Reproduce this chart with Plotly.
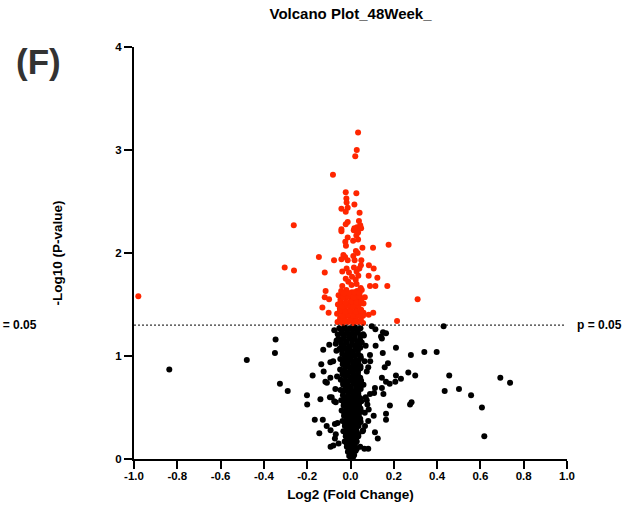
import plotly.graph_objects as go

# ---- data (log2 fold change, -log10 p) ----
red_scatter = [
    (-0.98, 1.58), (-0.262, 2.27), (-0.304, 1.86), (-0.261, 1.83), (-0.146, 1.96),
    (-0.076, 1.93), (-0.119, 1.81), (-0.115, 1.63), (-0.119, 1.57), (-0.099, 1.55),
    (-0.130, 1.47), (-0.101, 1.42), (0.176, 2.08), (0.104, 2.05), (0.085, 1.88),
    (0.107, 1.85), (0.124, 1.76), (0.084, 1.78), (0.170, 1.68), (0.090, 1.68),
    (0.115, 1.68), (0.31, 1.55), (0.215, 1.34), (0.105, 1.42), (0.084, 1.40),
    (0.066, 1.57),
]
red_top = [
    (0.035, 3.17), (0.029, 3.00), (0.022, 2.94), (-0.081, 2.76), (-0.022, 2.59),
    (0.027, 2.58), (-0.019, 2.53), (-0.018, 2.49), (0.018, 2.47), (-0.013, 2.44),
    (-0.042, 2.43), (-0.022, 2.40), (0.042, 2.39), (0.039, 2.31), (-0.013, 2.30),
    (-0.022, 2.28), (0.045, 2.27), (0.049, 2.24), (0.018, 2.24), (-0.042, 2.23),
]
red_mid = [
    (-0.042, 2.21), (0.015, 2.22), (0.030, 2.25), (0.044, 2.25), (0.035, 2.20),
    (0.027, 2.17), (-0.013, 2.15), (-0.024, 2.11), (0.012, 2.12), (0.035, 2.13),
    (-0.021, 2.07), (0.055, 2.05), (0.025, 2.02), (0.033, 2.00), (-0.033, 1.98),
    (-0.025, 1.96), (0.013, 1.97), (-0.042, 1.94), (-0.013, 1.93), (0.019, 1.93),
    (0.050, 1.93), (0.048, 1.88), (-0.018, 1.85), (0.016, 1.86), (0.041, 1.85),
    (-0.038, 1.82), (-0.007, 1.81), (0.028, 1.82), (0.007, 1.77), (0.036, 1.78),
    (-0.022, 1.75), (0.024, 1.74), (-0.010, 1.72), (0.028, 1.70), (-0.038, 1.68),
    (0.005, 1.69), (0.047, 1.66),
]
red_low = [
    (-0.060, 1.33), (-0.036, 1.32), (-0.012, 1.33), (0.012, 1.32), (0.036, 1.33), (0.058, 1.32),
    (-0.048, 1.37), (-0.024, 1.38), (0.000, 1.37), (0.024, 1.36), (0.048, 1.38),
    (-0.062, 1.41), (-0.036, 1.42), (-0.012, 1.41), (0.013, 1.42), (0.037, 1.41), (0.060, 1.42),
    (-0.049, 1.46), (-0.025, 1.45), (-0.001, 1.47), (0.025, 1.46), (0.049, 1.45),
    (-0.058, 1.50), (-0.035, 1.51), (-0.011, 1.50), (0.014, 1.51), (0.038, 1.50), (0.060, 1.51),
    (-0.046, 1.55), (-0.022, 1.56), (0.002, 1.54), (0.027, 1.55), (0.050, 1.56),
    (-0.055, 1.59), (-0.032, 1.60), (-0.008, 1.59), (0.017, 1.60), (0.040, 1.59),
    (-0.043, 1.63), (-0.019, 1.64), (0.006, 1.62), (0.030, 1.63), (0.052, 1.64),
]
red_low2 = [
    (-0.048, 1.35), (-0.024, 1.34), (0.000, 1.35), (0.024, 1.34), (0.048, 1.35),
    (-0.036, 1.39), (-0.012, 1.40), (0.012, 1.39), (0.036, 1.40), (0.058, 1.39),
    (-0.049, 1.44), (-0.024, 1.43), (0.001, 1.44), (0.025, 1.43), (0.048, 1.44),
    (-0.037, 1.48), (-0.013, 1.49), (0.012, 1.48), (0.037, 1.49),
    (-0.046, 1.53), (-0.022, 1.52), (0.003, 1.53), (0.027, 1.52), (0.050, 1.53),
    (-0.034, 1.57), (-0.010, 1.58), (0.015, 1.57), (0.039, 1.58),
    (-0.031, 1.61), (-0.006, 1.61), (0.018, 1.62), (0.042, 1.61),
]
black_left = [
    (-0.837, 0.87), (-0.479, 0.96), (-0.346, 1.16), (-0.349, 1.03), (-0.326, 0.73),
    (-0.290, 0.66), (-0.201, 0.62), (-0.200, 0.53), (-0.175, 0.81), (-0.126, 1.06),
    (-0.135, 0.92), (-0.098, 1.11), (-0.093, 0.94), (-0.124, 0.85), (-0.116, 0.75),
    (-0.109, 0.74), (-0.093, 0.79), (-0.139, 0.58), (-0.095, 0.60), (-0.087, 0.60),
    (-0.075, 0.56), (-0.165, 0.38), (-0.128, 0.38), (-0.144, 0.25), (-0.110, 0.32),
    (-0.092, 0.28), (-0.072, 0.34), (-0.068, 0.24), (-0.072, 0.20), (-0.092, 0.12),
    (-0.079, 0.13), (-0.068, 1.12), (-0.064, 1.15), (-0.059, 1.21),
]
black_right = [
    (0.430, 1.29), (0.341, 1.04), (0.398, 1.04), (0.279, 1.01), (0.210, 1.08),
    (0.173, 0.93), (0.158, 0.89), (0.149, 1.03), (0.267, 0.84), (0.299, 0.81),
    (0.210, 0.81), (0.233, 0.78), (0.207, 0.75), (0.456, 0.81), (0.435, 0.66),
    (0.501, 0.68), (0.557, 0.62), (0.607, 0.50), (0.618, 0.22), (0.692, 0.79),
    (0.737, 0.74), (0.275, 0.53), (0.282, 0.55), (0.182, 0.52), (0.164, 0.44),
    (0.164, 0.38), (0.164, 0.75), (0.181, 0.73), (0.145, 0.79), (0.145, 0.69),
    (0.152, 0.63), (0.113, 0.69), (0.109, 0.64), (0.090, 0.63), (0.107, 0.42),
    (0.113, 0.26), (0.126, 0.20), (0.082, 0.10), (0.064, 0.10), (0.150, 1.23),
    (0.164, 1.22), (0.141, 1.19), (0.145, 1.17), (0.098, 1.29), (0.115, 1.26),
    (0.116, 1.10), (0.090, 1.01), (0.091, 0.95), (0.082, 0.89), (0.084, 0.48),
    (0.082, 0.37), (0.067, 0.32), (0.056, 0.27), (0.078, 0.53), (0.075, 0.57),
]
black_edge = [
    (-0.065, 1.05), (-0.062, 0.80), (-0.068, 0.55), (-0.060, 0.35), (0.062, 1.20),
    (0.065, 0.95), (0.060, 0.72), (0.066, 0.45), (0.058, 0.28), (-0.075, 1.25),
    (0.070, 1.10), (-0.070, 0.68), (0.070, 0.60), (-0.055, 0.15), (0.045, 0.12),
    (-0.080, 0.95), (0.075, 0.85),
]
black_core = [
    (-0.052, 1.27), (-0.028, 1.28), (-0.004, 1.27), (0.021, 1.28), (0.046, 1.27),
    (-0.041, 1.22), (-0.016, 1.23), (0.009, 1.22), (0.033, 1.23), (0.058, 1.21),
    (-0.055, 1.17), (-0.030, 1.18), (-0.005, 1.17), (0.020, 1.18), (0.044, 1.16),
    (-0.043, 1.12), (-0.018, 1.13), (0.007, 1.12), (0.031, 1.11), (0.052, 1.13),
    (-0.050, 1.07), (-0.027, 1.08), (-0.003, 1.07), (0.022, 1.06), (0.045, 1.08),
    (-0.038, 1.02), (-0.014, 1.03), (0.010, 1.01), (0.034, 1.02),
    (-0.047, 0.97), (-0.024, 0.98), (0.000, 0.97), (0.024, 0.96), (0.048, 0.98),
    (-0.036, 0.92), (-0.012, 0.93), (0.012, 0.91), (0.036, 0.92),
    (-0.048, 0.87), (-0.025, 0.88), (-0.001, 0.86), (0.023, 0.87), (0.046, 0.88),
    (-0.037, 0.82), (-0.013, 0.81), (0.011, 0.83), (0.034, 0.82),
    (-0.045, 0.77), (-0.022, 0.76), (0.002, 0.78), (0.025, 0.77), (0.049, 0.76),
    (-0.034, 0.72), (-0.010, 0.71), (0.014, 0.73), (0.037, 0.72),
    (-0.046, 0.67), (-0.022, 0.68), (0.001, 0.66), (0.025, 0.67), (0.047, 0.68),
    (-0.035, 0.62), (-0.011, 0.61), (0.013, 0.63), (0.036, 0.62),
    (-0.043, 0.57), (-0.020, 0.56), (0.004, 0.58), (0.027, 0.57), (0.050, 0.56),
    (-0.032, 0.52), (-0.008, 0.51), (0.015, 0.53), (0.039, 0.52),
    (-0.041, 0.47), (-0.019, 0.46), (0.004, 0.48), (0.027, 0.47), (0.049, 0.46),
    (-0.030, 0.42), (-0.007, 0.41), (0.016, 0.43), (0.038, 0.42),
    (-0.037, 0.37), (-0.015, 0.36), (0.006, 0.38), (0.028, 0.37), (0.047, 0.36),
    (-0.026, 0.32), (-0.004, 0.31), (0.017, 0.33), (0.037, 0.32),
    (-0.033, 0.27), (-0.012, 0.26), (0.008, 0.28), (0.028, 0.27),
    (-0.022, 0.22), (-0.002, 0.21), (0.018, 0.23), (0.036, 0.22),
    (-0.027, 0.17), (-0.008, 0.16), (0.011, 0.18), (0.029, 0.17),
    (-0.017, 0.12), (0.002, 0.11), (0.020, 0.13),
    (-0.012, 0.07), (0.007, 0.06), (0.024, 0.08),
    (-0.006, 0.03), (0.012, 0.02),
]
black_core2 = [
    (-0.040, 1.25), (-0.016, 1.25), (0.009, 1.26), (0.034, 1.25),
    (-0.030, 1.20), (-0.004, 1.20), (0.020, 1.21), (0.045, 1.20),
    (-0.043, 1.15), (-0.018, 1.14), (0.008, 1.15), (0.032, 1.14),
    (-0.031, 1.10), (-0.006, 1.09), (0.019, 1.10), (0.042, 1.10),
    (-0.039, 1.05), (-0.014, 1.05), (0.010, 1.04), (0.034, 1.05),
    (-0.026, 1.00), (-0.002, 0.99), (0.022, 1.00), (0.046, 1.00),
    (-0.036, 0.95), (-0.012, 0.95), (0.012, 0.94), (0.036, 0.95),
    (-0.024, 0.90), (0.000, 0.89), (0.024, 0.90), (0.046, 0.90),
    (-0.037, 0.85), (-0.013, 0.84), (0.011, 0.85), (0.035, 0.85),
    (-0.025, 0.80), (-0.001, 0.79), (0.023, 0.80), (0.045, 0.79),
    (-0.034, 0.74), (-0.010, 0.75), (0.014, 0.75), (0.037, 0.74),
    (-0.022, 0.70), (0.002, 0.69), (0.026, 0.70), (0.046, 0.70),
    (-0.034, 0.65), (-0.010, 0.64), (0.013, 0.65), (0.036, 0.64),
    (-0.023, 0.60), (0.001, 0.59), (0.025, 0.60), (0.045, 0.59),
    (-0.031, 0.55), (-0.008, 0.54), (0.016, 0.55), (0.039, 0.54),
    (-0.020, 0.50), (0.003, 0.49), (0.027, 0.50), (0.046, 0.49),
    (-0.029, 0.45), (-0.007, 0.44), (0.016, 0.45), (0.038, 0.44),
    (-0.018, 0.40), (0.005, 0.39), (0.027, 0.40), (0.045, 0.39),
    (-0.026, 0.35), (-0.004, 0.34), (0.017, 0.35), (0.037, 0.34),
    (-0.015, 0.30), (0.007, 0.29), (0.027, 0.30),
    (-0.022, 0.25), (-0.002, 0.24), (0.018, 0.25), (0.036, 0.24),
    (-0.012, 0.20), (0.008, 0.19), (0.026, 0.20),
    (-0.017, 0.15), (0.002, 0.14), (0.020, 0.15),
    (-0.008, 0.10), (0.011, 0.09), (0.029, 0.10),
    (-0.002, 0.05), (0.017, 0.04),
    (0.003, 0.01),
]
threshold = 1.30  # -log10(0.05)
x_ticks = [-1.0, -0.8, -0.6, -0.4, -0.2, 0.0, 0.2, 0.4, 0.6, 0.8, 1.0]
y_ticks = [0, 1, 2, 3, 4]

black_pts = black_core + black_core2 + black_edge + black_left + black_right
red_pts = red_low + red_low2 + red_mid + red_top + red_scatter

FONT = "Liberation Sans, Arial, sans-serif"

fig = go.Figure()
fig.add_trace(go.Scatter(
    x=[p[0] for p in black_pts], y=[p[1] for p in black_pts], mode="markers",
    marker=dict(color="#000000", size=6, line=dict(width=0)), cliponaxis=False,
    showlegend=False, hoverinfo="skip"))
fig.add_trace(go.Scatter(
    x=[p[0] for p in red_pts], y=[p[1] for p in red_pts], mode="markers",
    marker=dict(color="#FF2600", size=6, line=dict(width=0)), cliponaxis=False,
    showlegend=False, hoverinfo="skip"))

fig.add_shape(type="line", xref="x", yref="y", x0=-1.0, x1=0.99, y0=threshold, y1=threshold,
              line=dict(color="black", width=1, dash="2px,2px"))

fig.add_annotation(text="<b>p = 0.05</b>", xref="paper", yref="y", x=1.018, y=threshold,
                   xanchor="left", yanchor="middle", showarrow=False,
                   font=dict(family=FONT, size=12, color="black"))
fig.add_annotation(text="<b>p = 0.05</b>", xref="paper", yref="y", x=-0.219, y=threshold,
                   xanchor="right", yanchor="middle", showarrow=False,
                   font=dict(family=FONT, size=12, color="black"))
fig.add_annotation(text="<b>(F)</b>", xref="paper", yref="paper", x=-0.22, y=0.965,
                   xanchor="center", yanchor="middle", showarrow=False,
                   font=dict(family=FONT, size=35, color="#333333"))

axis_common = dict(showline=True, linecolor="black", linewidth=2, ticks="outside",
                   ticklen=8, tickwidth=2, tickcolor="black", showgrid=False,
                   zeroline=False, automargin=False,
                   tickfont=dict(family=FONT, size=11.5, color="black", weight="bold"))

fig.update_layout(
    width=639, height=510,
    margin=dict(l=134, r=72, t=47, b=51),
    paper_bgcolor="white", plot_bgcolor="white",
    title=dict(text="<b>Volcano Plot_48Week_</b>", x=350.5 / 639, xanchor="center",
               y=1 - 14 / 510, yanchor="middle",
               font=dict(family=FONT, size=15, color="black")),
    xaxis=dict(range=[-1.0, 1.0], tickvals=x_ticks, ticktext=[f"{v:.1f}" for v in x_ticks],
               ticklabelstandoff=-3,
               title=dict(text="<b>Log2 (Fold Change)</b>", standoff=9,
                          font=dict(family=FONT, size=13.5, color="black")),
               **axis_common),
    yaxis=dict(range=[0, 4], tickvals=y_ticks, ticktext=[str(v) for v in y_ticks],
               title=dict(text="<b>-Log10 (P-value)</b>", standoff=50,
                          font=dict(family=FONT, size=13.5, color="black")),
               **axis_common),
)

# remove the default page margin so the figure sits at the top-left corner
fig.write_html("out.html", config={"displayModeBar": False},
               post_script="document.body.style.margin='0';")
